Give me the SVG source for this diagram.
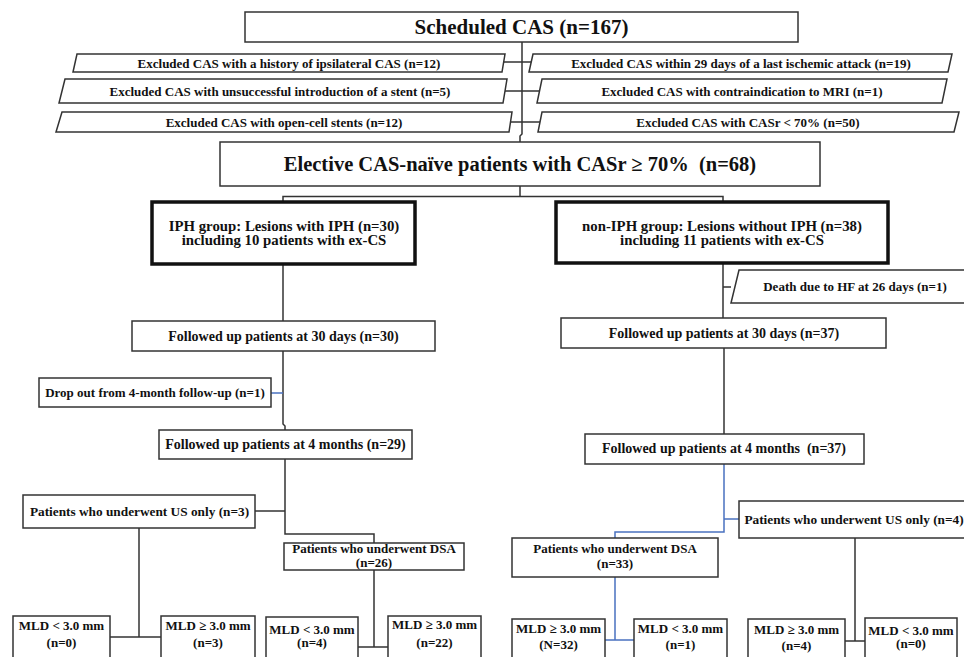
<svg xmlns="http://www.w3.org/2000/svg" width="964" height="657" viewBox="0 0 964 657">
<style>
.box{fill:#fff;stroke:#333;stroke-width:1.5}
.thick{stroke-width:3.5;stroke:#111}
.t{font-family:"Liberation Serif","Times New Roman",serif;font-weight:bold;fill:#111;text-anchor:middle}
.ln{stroke:#333;stroke-width:1.5;fill:none}
.blue{stroke:#4a72c0}
.s13{font-size:13px}
.s14{font-size:14px}
.us{font-size:13.3px}
</style>
<rect width="964" height="657" fill="#fff"/>
<g id="connectors">
<path class="ln" d="M522,42 V134 L520,136 V142"/>
<path class="ln" d="M504,62 H531 M505,91 H540 M511,122 H540"/>
<path class="ln" d="M520,186 V196.5 M283,202 V196.5 H723 V202"/>
<path class="ln" d="M283,264 V321"/>
<path class="ln" d="M283,351 V424 L285,426 V430"/>
<path class="ln blue" d="M271,393 H283"/>
<path class="ln" d="M285,459 V534 H374 V543"/>
<path class="ln" d="M255,511 H285"/>
<path class="ln" d="M139,528 V637 M110,637 H161"/>
<path class="ln" d="M374,570 V647 M358,647 H388"/>
<path class="ln" d="M723,263 V318 M723,287 H731"/>
<path class="ln" d="M724,348 V434"/>
<path class="ln blue" d="M724,464 V532 H615 V538 M724,519 H739"/>
<path class="ln blue" d="M615,577 V640 M605,640 H634"/>
<path class="ln" d="M855,538 V641 M845,641 H865"/>
</g>
<g id="n-scheduled">
<rect class="box" x="245" y="12" width="553" height="30"/>
<text class="t" x="521.5" y="34" style="font-size:21px">Scheduled CAS (n=167)</text>
</g>
<g id="n-ex1">
<polygon class="box" points="77,54 505,54 502,72 73,72"/>
<text class="t s13" x="289" y="68">Excluded CAS with a history of ipsilateral CAS (n=12)</text>
</g>
<g id="n-ex2">
<polygon class="box" points="65,79 507,79 503,103 59,103"/>
<text class="t s13" x="280" y="95.5">Excluded CAS with unsuccessful introduction of a stent (n=5)</text>
</g>
<g id="n-ex3">
<polygon class="box" points="62,112 512,112 509,132 56,132"/>
<text class="t s13" x="284" y="126.5">Excluded CAS with open-cell stents (n=12)</text>
</g>
<g id="n-ex4">
<polygon class="box" points="533,54 952,54 948,72 529,72"/>
<text class="t s13" x="741" y="68">Excluded CAS within 29 days of a last ischemic attack (n=19)</text>
</g>
<g id="n-ex5">
<polygon class="box" points="542,79 947,79 942,103 537,103"/>
<text class="t s13" x="742" y="95.5">Excluded CAS with contraindication to MRI (n=1)</text>
</g>
<g id="n-ex6">
<polygon class="box" points="542,112 959,112 954,132 538,132"/>
<text class="t s13" x="748" y="126.5">Excluded CAS with CASr &lt; 70% (n=50)</text>
</g>
<g id="n-elective">
<rect class="box" x="220" y="142" width="600" height="44"/>
<text class="t" x="520" y="171" style="font-size:20.5px;white-space:pre" xml:space="preserve">Elective CAS-naïve patients with CASr ≥ 70%  (n=68)</text>
</g>
<g id="n-iph">
<rect class="box thick" x="152" y="202" width="263" height="62"/>
<text class="t" x="284" y="230.5" style="font-size:14.8px">IPH group: Lesions with IPH (n=30)</text>
<text class="t" x="284" y="245" style="font-size:14.8px">including 10 patients with ex-CS</text>
</g>
<g id="n-noniph">
<rect class="box thick" x="556" y="202" width="332" height="61"/>
<text class="t" x="722" y="230.5" style="font-size:14.8px">non-IPH group: Lesions without IPH (n=38)</text>
<text class="t" x="722" y="245" style="font-size:14.8px">including 11 patients with ex-CS</text>
</g>
<g id="n-f30l">
<rect class="box" x="132" y="321" width="303" height="30"/>
<text class="t s14" x="283.5" y="340.5">Followed up patients at 30 days (n=30)</text>
</g>
<g id="n-drop">
<rect class="box" x="39" y="378" width="232" height="29"/>
<text class="t s13" x="155" y="397">Drop out from 4-month follow-up (n=1)</text>
</g>
<g id="n-f4l">
<rect class="box" x="159" y="430" width="253" height="29"/>
<text class="t s14" x="285.5" y="449">Followed up patients at 4 months (n=29)</text>
</g>
<g id="n-death">
<polygon class="box" points="739,270 975,270 975,303 731,303"/>
<text class="t s13" x="855" y="291">Death due to HF at 26 days (n=1)</text>
</g>
<g id="n-f30r">
<rect class="box" x="561" y="318" width="325" height="30"/>
<text class="t s14" x="724" y="337.5">Followed up patients at 30 days (n=37)</text>
</g>
<g id="n-f4r">
<rect class="box" x="585" y="434" width="279" height="30"/>
<text class="t s14" x="724" y="453" style="white-space:pre" xml:space="preserve">Followed up patients at 4 months  (n=37)</text>
</g>
<g id="n-usl">
<rect class="box" x="23" y="495" width="232" height="33"/>
<text class="t us" x="139.5" y="515.5">Patients who underwent US only (n=3)</text>
</g>
<g id="n-dsal">
<rect class="box" x="284" y="543" width="180" height="27"/>
<text class="t s13" x="374" y="553">Patients who underwent DSA</text>
<text class="t s13" x="374" y="566.5">(n=26)</text>
</g>
<g id="n-usr">
<rect class="box" x="739" y="501" width="236" height="37"/>
<text class="t us" x="854" y="523.5">Patients who underwent US only (n=4)</text>
</g>
<g id="n-dsar">
<rect class="box" x="512" y="538" width="206" height="39"/>
<text class="t s13" x="615" y="553">Patients who underwent DSA</text>
<text class="t s13" x="615" y="568">(n=33)</text>
</g>
<g id="n-m1">
<rect class="box" x="13" y="616" width="97" height="60"/>
<text class="t s13" x="61.5" y="630">MLD &lt; 3.0 mm</text>
<text class="t s13" x="61.5" y="647">(n=0)</text>
</g>
<g id="n-m2">
<rect class="box" x="161" y="616" width="94" height="60"/>
<text class="t s13" x="208" y="629.5">MLD ≥ 3.0 mm</text>
<text class="t s13" x="208" y="647">(n=3)</text>
</g>
<g id="n-m3">
<rect class="box" x="266" y="617" width="92" height="60"/>
<text class="t s13" x="312" y="633.5">MLD &lt; 3.0 mm</text>
<text class="t s13" x="312" y="647">(n=4)</text>
</g>
<g id="n-m4">
<rect class="box" x="388" y="616" width="93" height="60"/>
<text class="t s13" x="434.5" y="629">MLD ≥ 3.0 mm</text>
<text class="t s13" x="434.5" y="647">(n=22)</text>
</g>
<g id="n-m5">
<rect class="box" x="512" y="619" width="93" height="60"/>
<text class="t s13" x="558.5" y="632.5">MLD ≥ 3.0 mm</text>
<text class="t s13" x="558.5" y="648.5">(N=32)</text>
</g>
<g id="n-m6">
<rect class="box" x="634" y="619" width="93" height="60"/>
<text class="t s13" x="680.5" y="632.5">MLD &lt; 3.0 mm</text>
<text class="t s13" x="680.5" y="648.5">(n=1)</text>
</g>
<g id="n-m7">
<rect class="box" x="748" y="619" width="97" height="60"/>
<text class="t s13" x="796.5" y="633.5">MLD ≥ 3.0 mm</text>
<text class="t s13" x="796.5" y="650">(n=4)</text>
</g>
<g id="n-m8">
<rect class="box" x="865" y="618" width="92" height="60"/>
<text class="t s13" x="911" y="634.5">MLD &lt; 3.0 mm</text>
<text class="t s13" x="911" y="648">(n=0)</text>
</g>
</svg>
